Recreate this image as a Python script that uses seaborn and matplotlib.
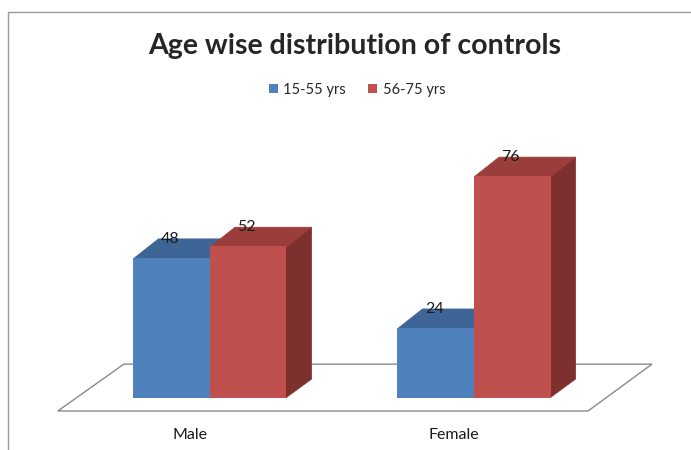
import seaborn as sns
import matplotlib.pyplot as plt
import pandas as pd
from matplotlib.patches import Polygon
from matplotlib.lines import Line2D

# chart data
categories = ["Male", "Female"]
age_groups = ["15-55 yrs", "56-75 yrs"]
young = [48, 24]
old = [52, 76]

df = pd.DataFrame({
    "Sex": categories * 2,
    "Age group": [age_groups[0]] * 2 + [age_groups[1]] * 2,
    "Percent": young + old,
})

blue, red = "#4F81BD", "#C0504D"
top_colors = {blue: "#3D6696", red: "#9B3E3B"}
side_colors = {blue: "#38608C", red: "#7D302E"}

sns.set_style("white")
plt.rcParams["font.family"] = ["Lato", "DejaVu Sans"]

fig = plt.figure(figsize=(6.91, 4.5), dpi=100)
ax = fig.add_axes([0, 0, 1, 1])

sns.barplot(data=df, x="Sex", y="Percent", hue="Age group", order=categories,
            hue_order=age_groups, palette=[blue, red], width=0.58,
            saturation=1, ax=ax, linewidth=0)

ax.set_xlim(-0.795, 1.822)
ax.set_ylim(-17.8, 136.3)
ax.axis("off")

# fake 3d depth
dx, dy = 0.095, 6.5

# floor
floor = Polygon([(-0.576, -4.45), (1.432, -4.45), (1.674, 11.6), (-0.326, 11.6)],
                closed=True, facecolor="white", edgecolor="#8a8a8a", lw=1, zorder=1)
ax.add_patch(floor)

bars = [b for cont in ax.containers for b in cont]
bars.sort(key=lambda b: b.get_x())
for i, b in enumerate(bars):
    x0, w, h = b.get_x(), b.get_width(), b.get_height()
    col = blue if abs(b.get_facecolor()[2] - 0.74) < 0.05 else red
    side = Polygon([(x0 + w - 0.003, 0), (x0 + w + dx, dy), (x0 + w + dx, h + dy), (x0 + w - 0.003, h)],
                   closed=True, facecolor=side_colors[col], edgecolor=side_colors[col],
                   lw=0.5, zorder=2 + 3 * i)
    top = Polygon([(x0, h - 0.3), (x0 + w, h - 0.3), (x0 + w + dx, h + dy), (x0 + dx, h + dy)],
                  closed=True, facecolor=top_colors[col], edgecolor=top_colors[col],
                  lw=0.5, zorder=3 + 3 * i)
    ax.add_patch(side)
    ax.add_patch(top)
    b.set_zorder(4 + 3 * i)
    ax.text(x0 + w / 2 - 0.005, h + dy, f"{h:g}", ha="center", va="center",
            fontsize=11.5, color="#1a1a1a", zorder=50)

# category labels
for i, c in enumerate(categories):
    ax.text(i - 0.075, -12.7, c, ha="center", va="center", fontsize=11.5, color="#1a1a1a")

leg = ax.legend(loc="center", bbox_to_anchor=(357 / 691, 1 - 90 / 450), ncol=2,
                frameon=False, handlelength=0.6, handleheight=0.6, handletextpad=0.4,
                columnspacing=1.5, fontsize=10.5)

fig.text(355 / 691, 1 - 46 / 450, "Age wise distribution of controls",
         ha="center", va="center", fontsize=20.5, fontweight="bold")

# chart frame
fig.add_artist(Line2D([8 / 691, 1], [1 - 12 / 450, 1 - 12 / 450], color="#9a9a9a", lw=1))
fig.add_artist(Line2D([8 / 691, 8 / 691], [0, 1 - 12 / 450], color="#9a9a9a", lw=1))

fig.savefig("out.png", dpi=100)
